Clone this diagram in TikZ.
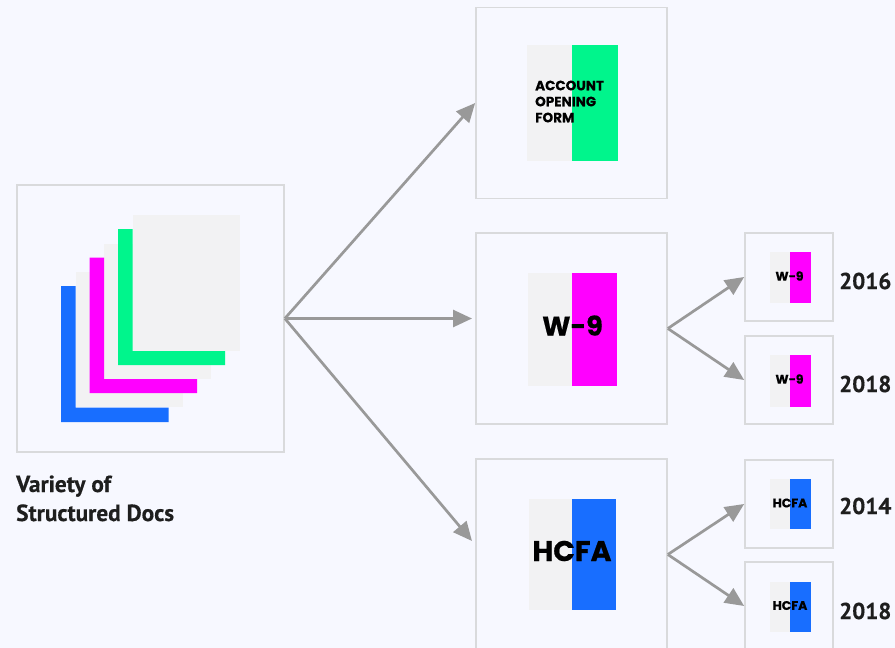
\documentclass[tikz,border=0pt]{standalone}
\usepackage{fontspec}
\usetikzlibrary{arrows.meta}
\newfontfamily\labelfont{PT Sans}[BoldFeatures={FakeBold=0.4}]
\newfontfamily\formfont{Poppins}[BoldFeatures={FakeBold=0.5}]
\definecolor{pagebg}{HTML}{F7F8FF}
\definecolor{boxline}{HTML}{D9DADC}
\definecolor{arrowgrey}{HTML}{999999}
\definecolor{sheetgrey}{HTML}{F2F2F3}
\definecolor{formblue}{HTML}{186EFF}
\definecolor{formpink}{HTML}{FF00FF}
\definecolor{formgreen}{HTML}{00F58C}
\definecolor{labelink}{HTML}{1E1E1E}
\tikzset{
	docbox/.style={draw=boxline,line width=1.7pt,fill=pagebg,inner sep=0pt,minimum size=#1},
	flow/.style={draw=arrowgrey,line width=2.7pt,-{Triangle[length=19pt,width=17pt]}},
	formtext/.style={font=\formfont\bfseries\fontsize{#1}{#1}\selectfont,text=black,inner sep=0pt},
	yeartext/.style={font=\labelfont\bfseries\fontsize{23}{24}\selectfont,text=labelink,inner sep=0pt,anchor=west},
}
\begin{document}
\begin{tikzpicture}[x=1pt,y=-1pt]
	\useasboundingbox (0,0) rectangle (895,648);
	\clip (0,0) rectangle (895,648);
	\fill [pagebg] (0,0) rectangle (895,648);
	% boxes
	\node [docbox=267pt] (boxall) at (150.5,318.5) {};
	\node [docbox=191pt] (boxacct) at (571.5,103) {};
	\node [docbox=191pt] (boxw) at (571.5,328.5) {};
	\node [docbox=191pt] (boxhcfa) at (571.5,554.5) {};
	\node [docbox=88pt] (boxwa) at (789,277) {};
	\node [docbox=88pt] (boxwb) at (789,380) {};
	\node [docbox=88pt] (boxha) at (789,504) {};
	\node [docbox=88pt] (boxhb) at (789,606) {};
	% stack of sheets
	\fill [sheetgrey] (75.7,272) rectangle (183,407);
	\fill [formblue] (61,286) -- (75.7,286) -- (75.7,407.5) -- (168.5,407.5) -- (168.5,422) -- (61,422) -- cycle;
	\fill [sheetgrey] (104,243.5) rectangle (211,379);
	\fill [formpink] (89.7,257.5) -- (104,257.5) -- (104,379) -- (197,379) -- (197,393) -- (89.7,393) -- cycle;
	\fill [sheetgrey] (132.5,215) rectangle (239.5,351);
	\fill [formgreen] (118,229) -- (132.5,229) -- (132.5,351) -- (225,351) -- (225,365) -- (118,365) -- cycle;
	% forms
	\fill [sheetgrey] (526.5,45) rectangle (572,161);
	\fill [formgreen] (572,45) rectangle (618,161);
	\fill [sheetgrey] (528,273) rectangle (572,386);
	\fill [formpink] (572,273) rectangle (617,386);
	\fill [sheetgrey] (529,499) rectangle (572,610);
	\fill [formblue] (572,499) rectangle (616,610);
	\fill [sheetgrey] (770,251.7) rectangle (790,303);
	\fill [formpink] (790,251.7) rectangle (810.5,303);
	\fill [sheetgrey] (770,355) rectangle (790,406.5);
	\fill [formpink] (790,355) rectangle (810.5,406.5);
	\fill [sheetgrey] (770,478.5) rectangle (790,529);
	\fill [formblue] (790,478.5) rectangle (810.5,529);
	\fill [sheetgrey] (770,581.7) rectangle (790,632);
	\fill [formblue] (790,581.7) rectangle (810.5,632);
	\node [formtext=13.5,anchor=west,align=left] (acct) at (535,101.5) {ACCOUNT\\[2.5pt]OPENING\\[2.5pt]FORM};
	\node [formtext=27] (wform) at (572.5,325.5) {W-9};
	\node [formtext=28.5] (hform) at (572,551) {HCFA};
	\node [formtext=12.5] (wa) at (789.5,276) {W-9};
	\node [formtext=12.5] (wb) at (789.5,379) {W-9};
	\node [formtext=12.5] (ha) at (790,503) {HCFA};
	\node [formtext=12.5] (hb) at (790,605.5) {HCFA};
	% arrows
	\coordinate (tipw) at (472,318.5);
	\coordinate (tiphcfa) at (472,541);
	\draw [flow] (boxall.east) -- (boxacct.west);
	\draw [flow] (boxall.east) -- (tipw);
	\draw [flow] (boxall.east) -- (tiphcfa);
	\draw [flow] (boxw.east) -- (boxwa.west);
	\draw [flow] (boxw.east) -- (boxwb.west);
	\draw [flow] (boxhcfa.east) -- (boxha.west);
	\draw [flow] (boxhcfa.east) -- (boxhb.west);
	% labels
	\node [yeartext] (ywa) at (839,281) {2016};
	\node [yeartext] (ywb) at (839,384) {2018};
	\node [yeartext] (yha) at (839,506) {2014};
	\node [yeartext] (yhb) at (839,611) {2018};
	\node [anchor=base west,inner sep=0pt,font=\labelfont\bfseries\fontsize{23.3}{29}\selectfont,text=labelink,align=left] (caption) at (16,521) {Variety of\\Structured Docs};
\end{tikzpicture}
\end{document}
